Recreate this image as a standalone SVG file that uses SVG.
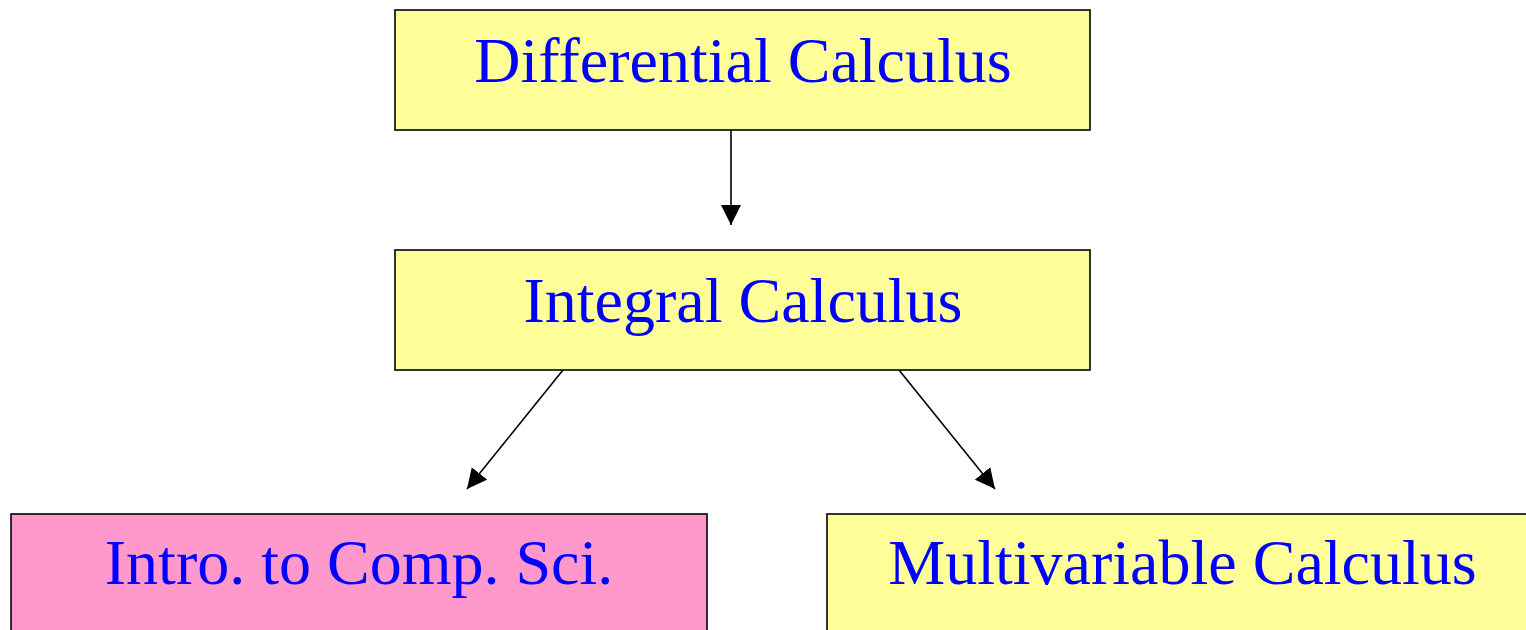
<svg xmlns="http://www.w3.org/2000/svg" width="1526" height="630" viewBox="0 0 1526 630">
<defs>
<style>
.box{stroke:#000;stroke-width:1.6}
.y{fill:#FFFF99}
.p{fill:#FF99CC}
.t{font-family:"Liberation Serif","Times New Roman",serif;font-size:64px;fill:#0000FF;text-anchor:middle}
.c{stroke:#000;stroke-width:1.6;fill:none}
</style>
<marker id="ah" markerWidth="20" markerHeight="20" refX="20" refY="10" orient="auto" markerUnits="userSpaceOnUse">
<path d="M0,0 L20,10 L0,20 Z" fill="#000"/>
</marker>
</defs>
<rect width="1526" height="630" fill="#fff"/>
<g id="connectors">
<line class="c" x1="731" y1="130" x2="731" y2="225" marker-end="url(#ah)"/>
<line class="c" x1="563" y1="370" x2="467" y2="489" marker-end="url(#ah)"/>
<line class="c" x1="899" y1="370" x2="995" y2="489" marker-end="url(#ah)"/>
</g>
<g id="differential">
<rect class="box y" x="395" y="10" width="695" height="120"/>
<text class="t" x="743" y="82">Differential Calculus</text>
</g>
<g id="integral">
<rect class="box y" x="395" y="250" width="695" height="120"/>
<text class="t" x="743" y="322">Integral Calculus</text>
</g>
<g id="intro-cs">
<rect class="box p" x="11" y="514" width="696" height="130"/>
<text class="t" x="359" y="584">Intro. to Comp. Sci.</text>
</g>
<g id="multivariable">
<rect class="box y" x="827" y="514" width="711" height="130"/>
<text class="t" x="1182.5" y="584">Multivariable Calculus</text>
</g>
</svg>
